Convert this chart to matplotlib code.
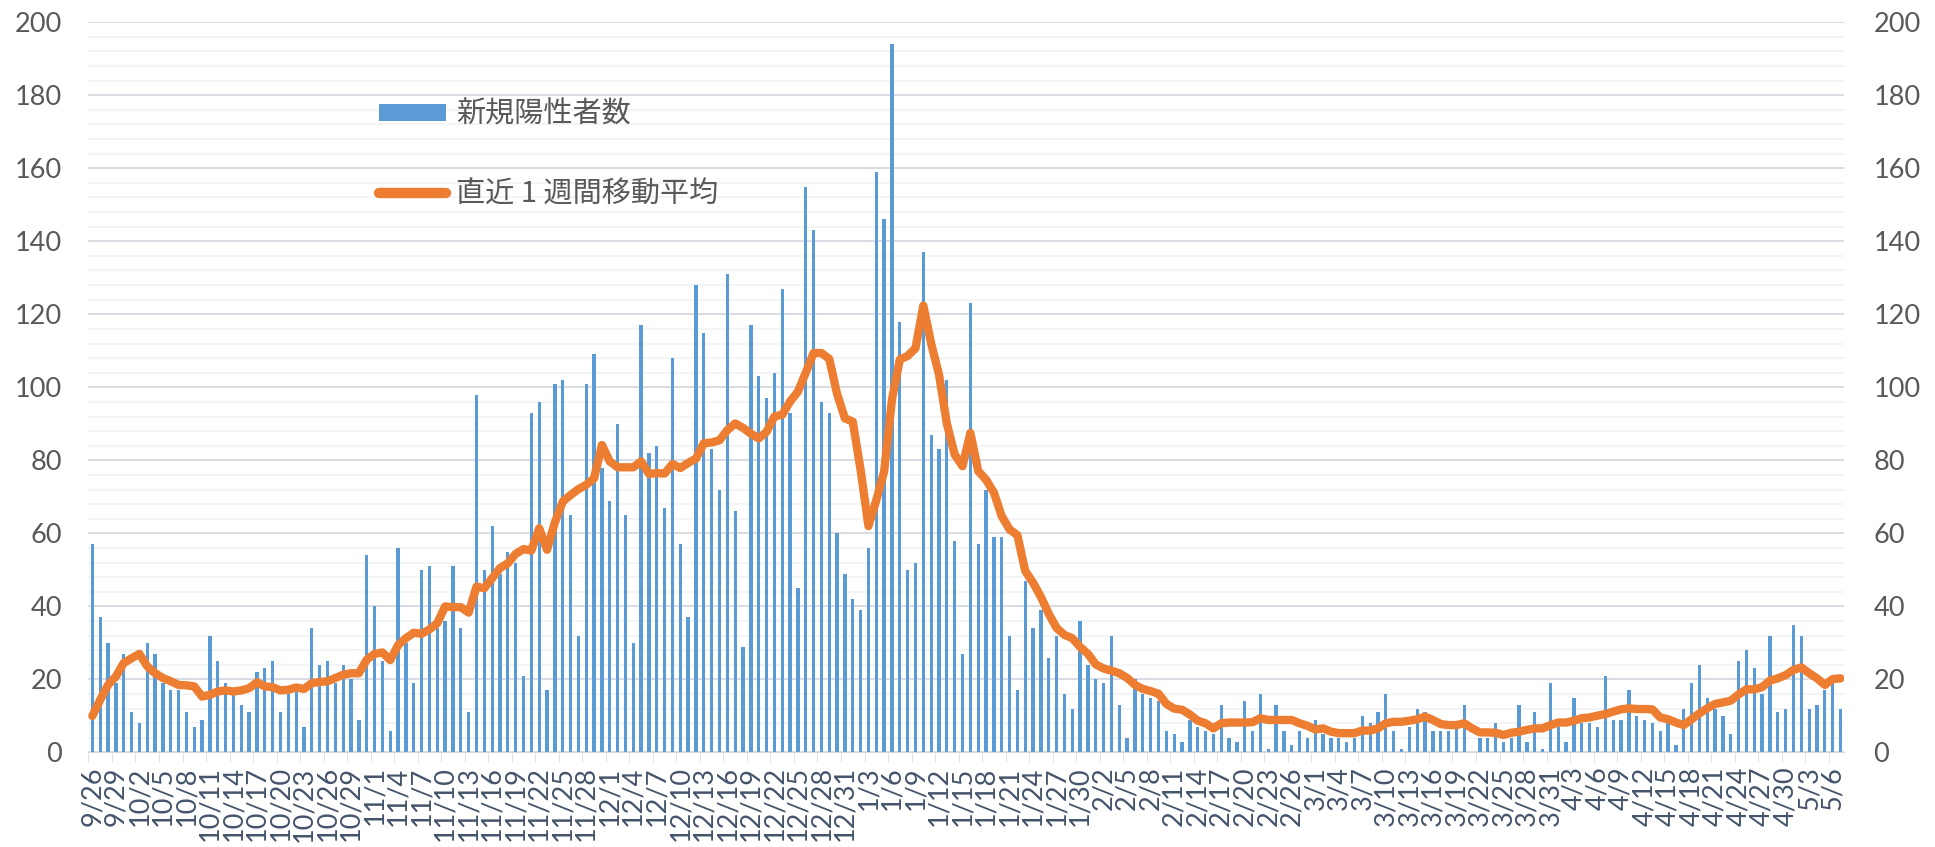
import numpy as np
import pandas as pd
import matplotlib
matplotlib.use('Agg')
import matplotlib.pyplot as plt
from matplotlib.patches import Patch
from matplotlib.lines import Line2D
from matplotlib.font_manager import FontProperties

# daily new positive cases, 2020/9/26 - 2021/5/7
cases_sep = [57, 37, 30, 19, 27]
cases_oct = [11, 8, 30, 27, 19, 17, 17, 11, 7, 9, 32, 25, 19, 16, 13, 11, 22, 23, 25, 11,
             16, 17, 7, 34, 24, 25, 19, 24, 20, 9, 54]
cases_nov = [40, 25, 6, 56, 30, 19, 50, 51, 34, 36, 51, 34, 11, 98, 50, 62, 49, 55, 52, 21,
             93, 96, 17, 101, 102, 65, 32, 101, 109, 78]
cases_dec = [69, 90, 65, 30, 117, 82, 84, 67, 108, 57, 37, 128, 115, 83, 72, 131, 66, 29, 117, 103,
             97, 104, 127, 93, 45, 155, 143, 96, 93, 60, 49]
cases_jan = [42, 39, 56, 159, 146, 194, 118, 50, 52, 137, 87, 83, 102, 58, 27, 123, 57, 72, 59, 59,
             32, 17, 47, 34, 39, 26, 32, 16, 12, 36, 24]
cases_feb = [20, 19, 32, 13, 4, 20, 16, 15, 14, 6, 5, 3, 9, 7, 6, 5, 13, 4, 3, 14,
             6, 16, 1, 13, 6, 2, 6, 4]
cases_mar = [9, 5, 4, 4, 3, 4, 10, 8, 11, 16, 6, 1, 7, 12, 11, 6, 6, 6, 7, 13,
             0, 4, 4, 8, 3, 4, 13, 3, 11, 1, 19]
cases_apr = [7, 3, 15, 8, 8, 7, 21, 9, 9, 17, 10, 9, 8, 6, 8, 2, 12, 19, 24, 15,
             12, 10, 5, 25, 28, 23, 16, 32, 11, 12]
cases_may = [35, 32, 12, 13, 17, 19, 12]

# 7-day moving average as drawn
avg_sep = [10, 14.4, 18.5, 20.8, 24.5]
avg_oct = [25.8, 27, 23.6, 21.7, 20.4, 19.5, 18.5, 18.4, 18.1, 15.3, 15.8, 16.7, 17, 16.7, 17,
           17.6, 19.2, 18.1, 17.9, 17, 17.2, 17.8, 17.4, 19, 19.3, 19.5, 20.4, 21.3, 21.7, 21.7, 25.4]
avg_nov = [27, 27.4, 25.3, 29.4, 31.3, 32.8, 32.5, 33.7, 35.4, 40, 39.8, 39.8, 38.3, 45.4, 45,
           47.7, 50.5, 51.8, 54.4, 55.7, 55.3, 61.4, 55.5, 63, 68.7, 70.5, 72.1, 73.3, 75.1, 84.2]
avg_dec = [79.7, 78.1, 78.1, 78.1, 79.7, 76.3, 76.5, 76.4, 79, 77.9, 79.3, 80.5, 84.7, 84.9, 85.5,
           88.3, 90.1, 88.9, 87.3, 86, 87.8, 92, 92.5, 96.1, 98.8, 104, 109.4, 109.4, 107.8, 98.2, 91.5]
avg_jan = [90.6, 77.4, 62, 69.1, 76.9, 96.7, 107.6, 108.6, 110.7, 122.4, 112, 103.5, 90.1, 81.6, 78.4,
           87.5, 77.1, 74.7, 71.2, 64.7, 61.1, 59.5, 49.7, 46.5, 42.6, 38, 34.1, 32.2, 31.3, 28.9, 27]
avg_feb = [24.1, 23, 22.4, 21.7, 20.4, 18.5, 17.4, 16.8, 16.1, 13.3, 12, 11.7, 10.4, 8.7, 8,
           6.6, 8, 8.2, 8.2, 8.2, 8.3, 9.4, 8.9, 8.9, 8.9, 8.9, 8, 7.3]
avg_mar = [6.3, 6.6, 5.7, 5.3, 5.3, 5.3, 6, 6, 6.6, 8, 8.4, 8.4, 8.7, 9.1, 9.8,
           8.9, 7.8, 7.5, 7.5, 8, 6.6, 5.5, 5.5, 5.4, 4.8, 5.4, 5.7, 6.2, 6.6, 6.6, 7.5]
avg_apr = [8.2, 8.2, 8.7, 9.4, 9.6, 10.1, 10.5, 11.2, 11.8, 12.1, 11.9, 11.9, 11.8, 9.6, 9.1,
           8.2, 7.5, 9.1, 10.7, 12.1, 13.3, 13.7, 14.2, 15.9, 17.3, 17.3, 17.9, 19.7, 20.3, 21.2]
avg_may = [22.6, 23.3, 21.7, 20.3, 18.5, 20.1, 20.3]

cases = np.array(cases_sep + cases_oct + cases_nov + cases_dec + cases_jan
                 + cases_feb + cases_mar + cases_apr + cases_may)
avg7 = np.array(avg_sep + avg_oct + avg_nov + avg_dec + avg_jan
                + avg_feb + avg_mar + avg_apr + avg_may)

dates = pd.date_range('2020-09-26', periods=len(cases))
labels = [f'{d.month}/{d.day}' for d in dates]

BLUE = '#5B9BD5'
ORANGE = '#ED7D31'
GRAY = '#595959'

plt.rcParams['font.family'] = ['Lato', 'Noto Sans CJK JP', 'DejaVu Sans']

fig = plt.figure(figsize=(19.35, 8.47), dpi=100)
ax = fig.add_axes([0.0457, 0.1116, 0.9075, 0.8622])
x = np.arange(len(cases))
ax.bar(x, cases, width=0.42, color=BLUE, zorder=2)
ax.plot(x, avg7, color=ORANGE, lw=6, solid_capstyle='round',
        solid_joinstyle='round', zorder=3)

ax.set_xlim(-0.5, len(cases) - 0.5)
ax.set_ylim(0, 200)
ax.set_yticks(np.arange(0, 201, 20))
ax.set_yticks(np.arange(0, 201, 4), minor=True)
ax.grid(axis='y', which='major', color='#D9DCE3', lw=1.4)
ax.grid(axis='y', which='minor', color='#EFF1F4', lw=1.1)
ax.set_axisbelow(True)
for s in ['top', 'right', 'left']:
    ax.spines[s].set_visible(False)
ax.spines['bottom'].set_color('#D9D9D9')

ax.set_xticks(x[::3])
ax.set_xticklabels(labels[::3], rotation=90)
ax.set_xticks(np.arange(-0.5, len(cases), 3), minor=True)
ax.tick_params(axis='x', which='major', length=0, pad=10, labelsize=19.5, labelcolor='#44546A')
ax.tick_params(axis='x', which='minor', length=7, color='#D9D9D9')
ax.tick_params(axis='y', which='both', length=0, labelsize=19.5, labelcolor=GRAY, pad=19)

ax2 = ax.twinx()
ax2.set_ylim(0, 200)
ax2.set_yticks(np.arange(0, 201, 20))
for s in ax2.spines.values():
    s.set_visible(False)
ax2.tick_params(axis='y', length=0, labelsize=19.5, labelcolor=GRAY, pad=21)

handles = [Patch(facecolor=BLUE),
           Line2D([0], [0], color=ORANGE, lw=7.5, solid_capstyle='round')]
ax.legend(handles, ['新規陽性者数', '直近 1 週間移動平均'], loc='upper left',
          bbox_to_anchor=(379 / 1935, 1 - 100 / 847), bbox_transform=fig.transFigure,
          frameon=False, prop=FontProperties(family='Noto Sans CJK JP', size=21),
          labelcolor=GRAY, handlelength=2.3, handleheight=0.55, handletextpad=0.35,
          labelspacing=1.7, borderaxespad=0, borderpad=0)

fig.savefig('out.png', dpi=100)
